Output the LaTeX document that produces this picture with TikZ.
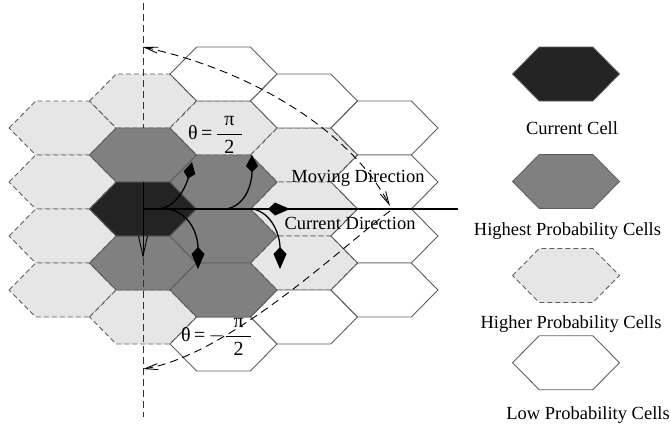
\documentclass[tikz,border=0pt]{standalone}
\usepackage{fontspec}
\setmainfont{Liberation Serif}
\usetikzlibrary{arrows.meta}

\definecolor{cellcur}{RGB}{35,35,35}
\definecolor{cellhigh}{RGB}{128,128,128}
\definecolor{cellmid}{RGB}{230,230,230}
\definecolor{edgegray}{RGB}{95,95,95}

\tikzset{
  hexcell/.pic={\path[pic actions] (-53.5,0) -- (-26.75,-27) -- (26.75,-27) -- (53.5,0)
                  -- (26.75,27) -- (-26.75,27) -- cycle;},
  curcell/.style={fill=cellcur, draw=edgegray, line width=0.9pt},
  highcell/.style={fill=cellhigh, draw=edgegray, line width=0.9pt},
  midcell/.style={fill=cellmid, draw=edgegray, line width=0.9pt, dash pattern=on 5pt off 3pt},
  lowcell/.style={fill=white, draw=edgegray, line width=0.9pt},
  axisline/.style={draw=black!80, line width=0.9pt, dash pattern=on 7pt off 4pt},
  sweep/.style={draw=black, line width=0.9pt, dash pattern=on 8pt off 5pt},
  sweeptip/.tip={Straight Barb[length=13pt,width=6pt]},
  bigkite/.tip={Kite[length=22pt,width=13pt,inset=7pt]},
  smallkite/.tip={Kite[length=17pt,width=12pt,inset=6pt]},
  turn/.style={draw=black, line width=1.3pt, -bigkite},
  lbl/.style={font=\fontsize{18.5}{20}\selectfont, inner sep=0pt},
  anglbl/.style={font=\fontsize{20}{22}\selectfont, inner sep=0pt},
}

\newcommand{\fracpart}[1]{$\displaystyle\frac{\hbox to 25pt{\hfil#1\hfil}}{\hbox{2}}$}

\begin{document}
\begin{tikzpicture}[x=1pt,y=-1pt]
\useasboundingbox (0,0) rectangle (671,424);

% higher probability cells (dashed outlines), drawn first
\foreach \cx/\cy in {62.5/128,62.5/182,62.5/236,62.5/290,143/101,143/317,
                     223.5/128,304/155,304/209,304/263}
  \pic[midcell] at (\cx,\cy) {hexcell};
% low probability cells
\foreach \cx/\cy in {223.5/74,223.5/344,304/101,304/317,
                     384.5/128,384.5/182,384.5/236,384.5/290}
  \pic[lowcell] at (\cx,\cy) {hexcell};
% highest probability cells
\foreach \cx/\cy in {143/155,143/263,223.5/182,223.5/236,223.5/290}
  \pic[highcell] at (\cx,\cy) {hexcell};
% current cell
\pic[curcell] at (143,209) {hexcell};

% reference axes
\coordinate (O) at (143,209);
\coordinate (vtop) at (143,3);
\coordinate (vtopcut) at (143,128);
\coordinate (vdown) at (143,182);
\coordinate (vtip) at (143,258);
\coordinate (vbot) at (143,417);
\coordinate (hend) at (458,209);
\draw[axisline] (vtop) -- (vtopcut);
\draw[axisline] (vtip) -- (vbot);
\draw[line width=0.9pt, -{Straight Barb[length=20pt,width=9pt]}] (vdown) -- (vtip);
\draw[line width=1.1pt] (O) -- (hend);

% sweep of theta from pi/2 to -pi/2
\coordinate (sTop) at (143,47);
\coordinate (sMid) at (390,206);
\coordinate (sMid2) at (390,211);
\coordinate (sBot) at (143,369);
\draw[sweep, sweeptip-sweeptip] (sTop) .. controls (250,70) and (350,130) .. (sMid);
\draw[sweep, -sweeptip] (sMid2) .. controls (350,240) and (230,355) .. (sBot);

% turning arrows out of the current cell
\coordinate (hTip) at (290,209);
\draw[turn] (O) -- (hTip);
\coordinate (aS) at (157,209);  \coordinate (aE) at (192,162);
\coordinate (bS) at (226,209);  \coordinate (bE) at (252,155);
\coordinate (cS) at (167,209);  \coordinate (cE) at (198,269);
\coordinate (dS) at (253,209);  \coordinate (dE) at (280,269);
\draw[turn, -smallkite] (aS) .. controls (175,209) and (186,187) .. (aE);
\draw[turn, -smallkite] (bS) .. controls (245,206) and (252,185) .. (bE);
\draw[turn] (cS) .. controls (190,212) and (198,235) .. (cE);
\draw[turn] (dS) .. controls (272,213) and (280,235) .. (dE);

% angle and direction labels
\node[anglbl, anchor=west] (thetaUp) at (188,135) {θ\,=\,\fracpart{π}};
\node[anglbl, anchor=west] (thetaDown) at (181,337) {θ\,=\,$-$\fracpart{π}};
\node[lbl, anchor=base] (moving) at (358,182) {Moving Direction};
\node[lbl, anchor=base] (current) at (350,229) {Current Direction};

% legend
\pic[curcell] at (566,74) {hexcell};
\node[lbl, anchor=base] (legCur) at (572,134) {Current Cell};
\pic[highcell] at (566,181.5) {hexcell};
\node[lbl, anchor=base] (legHigh) at (567.5,235) {Highest Probability Cells};
\pic[midcell] at (566,275.5) {hexcell};
\node[lbl, anchor=base] (legMid) at (571,328) {Higher Probability Cells};
\pic[lowcell] at (566,362.7) {hexcell};
\node[lbl, anchor=base] (legLow) at (588,419) {Low Probability Cells};
\end{tikzpicture}
\end{document}
